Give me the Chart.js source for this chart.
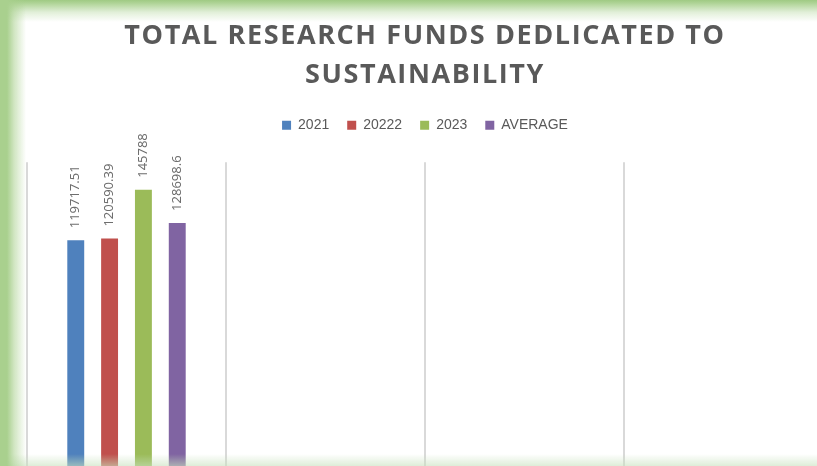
<!DOCTYPE html>
<html>
<head>
<meta charset="utf-8">
<script src="https://cdn.jsdelivr.net/npm/chart.js@4.4.0/dist/chart.umd.min.js"></script>
<style>
  html, body { margin: 0; padding: 0; background: #fff; overflow: hidden; }
  #wrap { position: absolute; left: 0; top: 0; width: 850px; height: 480px; }
  #glow {
    position: fixed; left: 0; top: 0; width: 817px; height: 466px; pointer-events: none;
    background:
      linear-gradient(to right, #a9d08e 0px, #a9d08e 7px, rgba(169,208,142,0.55) 14px, rgba(169,208,142,0) 26px),
      linear-gradient(to bottom, #9fca83 0px, #b3d69c 4px, rgba(179,214,156,0.4) 12px, rgba(179,214,156,0) 22px),
      linear-gradient(to top, rgba(200,225,190,0.6) 0px, rgba(200,225,190,0) 12px);
  }
</style>
</head>
<body>
<div id="wrap"><canvas id="graph" width="850" height="480"></canvas></div>
<div id="glow"></div>
<script>
const categories = ["", "", "", ""];
const seriesNames = ["2021", "20222", "2023", "AVERAGE"];
const funds2021 = [119717.51, null, null, null];
const funds2022 = [120590.39, null, null, null];
const funds2023 = [145788, null, null, null];
const fundsAverage = [128698.6, null, null, null];
const colors = ["#4f81bd", "#c0504d", "#9bbb59", "#8064a2"];

// value labels, written upright above each bar
const barLabels = {
  id: "barLabels",
  afterDatasetsDraw(chart) {
    const ctx = chart.ctx;
    ctx.save();
    ctx.fillStyle = "#6e6e6e";
    ctx.font = "13px 'Noto Sans', sans-serif";
    ctx.textAlign = "left";
    ctx.textBaseline = "middle";
    chart.data.datasets.forEach((ds, i) => {
      chart.getDatasetMeta(i).data.forEach((bar, j) => {
        const v = ds.data[j];
        if (v === null) return;
        ctx.save();
        ctx.translate(bar.x, bar.y - 12);
        ctx.rotate(-Math.PI / 2);
        ctx.fillText(String(v), 0, 0);
        ctx.restore();
      });
    });
    ctx.restore();
  }
};

// extra room under the legend, spaced-out title letters
const layoutTweaks = {
  id: "layoutTweaks",
  beforeInit(chart) {
    const fit = chart.legend.fit;
    chart.legend.fit = function () {
      fit.bind(chart.legend)();
      this.height += 20;
    };
  },
  afterInit(chart) {
    const tb = chart.titleBlock;
    if (!tb) return;
    const draw = tb.draw;
    tb.draw = function () {
      const c = chart.ctx;
      const old = c.letterSpacing;
      c.letterSpacing = "1.6px";
      draw.apply(tb, arguments);
      c.letterSpacing = old || "0px";
    };
  }
};

const ctx = document.getElementById("graph").getContext("2d");
new Chart(ctx, {
  type: "bar",
  data: {
    labels: categories,
    datasets: [funds2021, funds2022, funds2023, fundsAverage].map((d, i) => ({
      label: seriesNames[i],
      data: d,
      backgroundColor: colors[i],
      categoryPercentage: 0.68,
      barPercentage: 0.5,
    })),
  },
  options: {
    responsive: false,
    animation: false,
    layout: { padding: { left: 27, right: 27, top: 0, bottom: 8 } },
    plugins: {
      title: {
        display: true,
        text: ["TOTAL RESEARCH FUNDS DEDLICATED TO", "SUSTAINABILITY"],
        color: "#595959",
        font: { family: "'Open Sans', sans-serif", size: 27, weight: "bold", lineHeight: 1.45 },
        padding: { top: 17, bottom: 5 },
      },
      legend: {
        display: true,
        labels: {
          color: "#595959",
          font: { family: "'Liberation Sans', sans-serif", size: 14 },
          boxWidth: 9,
          boxHeight: 9,
          padding: 18,
        },
      },
      tooltip: { enabled: false },
    },
    scales: {
      x: {
        grid: { display: true, color: "#d9d9d9", lineWidth: 2, drawTicks: false },
        border: { display: false },
        ticks: { display: false },
      },
      y: {
        display: false,
        min: 0,
        max: 160000,
      },
    },
  },
  plugins: [barLabels, layoutTweaks],
});
</script>
</body>
</html>
